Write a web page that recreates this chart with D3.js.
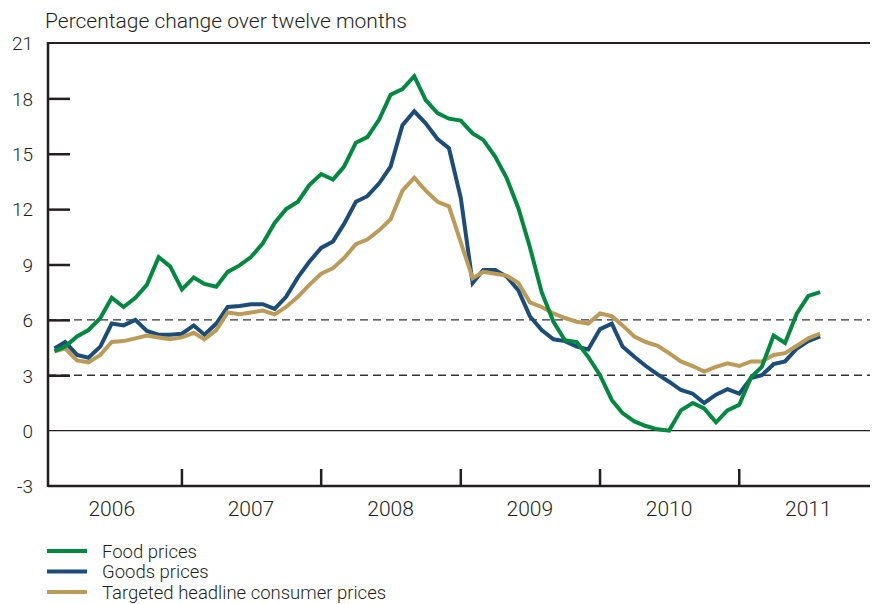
<!DOCTYPE html>
<html>
<head>
<meta charset="utf-8">
<script src="https://cdn.jsdelivr.net/npm/d3@7"></script>
<style>
  body { margin: 0; background: #fff; }
  svg { display: block; font-family: Roboto, "Liberation Sans", sans-serif; font-weight: 300; }
  .lbl { fill: #231f20; }
</style>
</head>
<body>
<svg class="chart"></svg>
<script>
// monthly data, Jan 2006 - Jul 2011, percent change over twelve months
var firstMonth = new Date(2006, 0, 1);

var food = [4.3, 4.55, 5.1, 5.45, 6.1, 7.2, 6.7, 7.2, 7.9, 9.4, 8.9, 7.65,
    8.3, 7.95, 7.8, 8.6, 8.95, 9.4, 10.15, 11.25, 12.0, 12.4, 13.3, 13.9,
    13.6, 14.3, 15.6, 15.9, 16.85, 18.2, 18.5, 19.2, 17.9, 17.2, 16.9, 16.8,
    16.1, 15.75, 14.85, 13.7, 12.05, 9.95, 7.5, 5.9, 4.9, 4.8, 4.0, 3.0,
    1.65, 0.95, 0.5, 0.25, 0.07, 0.0, 1.1, 1.5, 1.2, 0.45, 1.1, 1.4,
    2.9, 3.45, 5.15, 4.75, 6.35, 7.3, 7.5];

var goods = [4.45, 4.8, 4.1, 3.95, 4.55, 5.8, 5.7, 6.0, 5.4, 5.2, 5.2, 5.25,
    5.7, 5.2, 5.8, 6.7, 6.75, 6.85, 6.85, 6.6, 7.25, 8.3, 9.15, 9.9,
    10.25, 11.2, 12.4, 12.7, 13.4, 14.3, 16.55, 17.3, 16.65, 15.8, 15.3, 12.6,
    8.0, 8.7, 8.7, 8.35, 7.6, 6.2, 5.45, 4.95, 4.85, 4.55, 4.4, 5.5,
    5.8, 4.55, 4.0, 3.5, 3.05, 2.65, 2.2, 2.0, 1.5, 1.95, 2.25, 2.0,
    2.85, 3.0, 3.6, 3.75, 4.45, 4.85, 5.1];

var headline = [4.3, 4.45, 3.8, 3.7, 4.1, 4.8, 4.85, 5.0, 5.15, 5.05, 4.95, 5.05,
    5.3, 4.95, 5.45, 6.4, 6.3, 6.4, 6.5, 6.3, 6.7, 7.25, 7.9, 8.5,
    8.8, 9.35, 10.1, 10.35, 10.85, 11.45, 13.0, 13.7, 13.0, 12.4, 12.15, 10.2,
    8.25, 8.6, 8.5, 8.4, 8.0, 6.95, 6.7, 6.35, 6.1, 5.9, 5.8, 6.35,
    6.2, 5.7, 5.1, 4.8, 4.6, 4.2, 3.75, 3.5, 3.2, 3.45, 3.65, 3.5,
    3.75, 3.75, 4.1, 4.2, 4.6, 5.0, 5.25];

var years = [2006, 2007, 2008, 2009, 2010, 2011];
var yTicks = [-3, 0, 3, 6, 9, 12, 15, 18, 21];
var targetBand = [3, 6]; // dashed lines

var seriesNames = ["Food prices", "Goods prices", "Targeted headline consumer prices"];
var seriesColors = ["#00893f", "#1b4d78", "#bb9b57"];

var width = 873;
var height = 604;
// note: "top" is taken by window.top, so plot edges get their own names
var plotLeft = 48, plotRight = 870, plotTop = 43, plotBottom = 486;

var chart = d3.select(".chart")
    .attr("width", width)
    .attr("height", height);

var x = d3.scaleTime()
    .domain([new Date(2006, 0, 1), new Date(2012, 0, 1)])
    .range([42.7, 878.5]);

var y = d3.scaleLinear()
    .domain([-3, 21])
    .range([plotBottom, plotTop]);

// each monthly value sits at the end of its month
function monthEnd(i) {
    return d3.timeMonth.offset(firstMonth, i + 1);
}

var line = d3.line()
    .x(function(d, i) { return x(monthEnd(i)); })
    .y(function(d) { return y(d); });

chart.append("text")
    .attr("class", "lbl")
    .attr("x", 45)
    .attr("y", 28)
    .style("font-size", "21px")
    .text("Percentage change over twelve months");

// dashed reference lines
chart.selectAll("line.band")
    .data(targetBand)
    .enter()
    .append("line")
    .attr("class", "band")
    .attr("x1", plotLeft).attr("x2", plotRight)
    .attr("y1", function(d) { return y(d); })
    .attr("y2", function(d) { return y(d); })
    .attr("stroke", "#333")
    .attr("stroke-width", 1.3)
    .attr("stroke-dasharray", "8,5");

// zero line
chart.append("line")
    .attr("x1", plotLeft).attr("x2", plotRight)
    .attr("y1", y(0)).attr("y2", y(0))
    .attr("stroke", "#231f20")
    .attr("stroke-width", 1.2);

// top border
chart.append("line")
    .attr("x1", plotLeft - 1).attr("x2", plotRight)
    .attr("y1", plotTop).attr("y2", plotTop)
    .attr("stroke", "#231f20")
    .attr("stroke-width", 2);

// y axis (plain hyphen for the negative label, as in the original)
var yAxis = d3.axisLeft(y)
    .tickValues(yTicks)
    .tickFormat(function(d) { return String(d); })
    .tickSize(-22)
    .tickPadding(14);

var yg = chart.append("g")
    .attr("transform", "translate(" + plotLeft + ",0)")
    .call(yAxis);
yg.select(".domain").remove();
yg.selectAll(".tick line")
    .attr("stroke", "#231f20")
    .attr("stroke-width", 2.5)
    .style("display", function(d) { return (d === -3 || d === 0 || d === 21) ? "none" : null; });
yg.selectAll(".tick text")
    .attr("class", "lbl")
    .attr("x", -15)
    .attr("dy", "0.36em")
    .style("font-family", "Roboto, sans-serif")
    .style("font-weight", 300)
    .style("font-size", "19px");

chart.append("line")
    .attr("x1", plotLeft).attr("x2", plotLeft)
    .attr("y1", plotTop - 1).attr("y2", plotBottom + 1)
    .attr("stroke", "#231f20")
    .attr("stroke-width", 2.5);

// x axis: ticks at year boundaries, labels mid-year
var xg = chart.append("g");
xg.append("line")
    .attr("x1", plotLeft).attr("x2", plotRight)
    .attr("y1", plotBottom).attr("y2", plotBottom)
    .attr("stroke", "#231f20")
    .attr("stroke-width", 2.5);

xg.selectAll("line.yt")
    .data(years.slice(1))
    .enter()
    .append("line")
    .attr("class", "yt")
    .attr("x1", function(d) { return x(new Date(d, 0, 1)); })
    .attr("x2", function(d) { return x(new Date(d, 0, 1)); })
    .attr("y1", plotBottom)
    .attr("y2", plotBottom - 17)
    .attr("stroke", "#231f20")
    .attr("stroke-width", 2.5);

xg.selectAll("text")
    .data(years)
    .enter()
    .append("text")
    .attr("class", "lbl")
    .attr("x", function(d) { return x(new Date(d, 6, 1)); })
    .attr("y", 516)
    .attr("text-anchor", "middle")
    .style("font-size", "21px")
    .text(function(d) { return d; });

// series lines, goods and headline under food
var order = [1, 2, 0];
var allSeries = [food, goods, headline];

chart.selectAll("path.series")
    .data(order)
    .enter()
    .append("path")
    .attr("class", "series")
    .attr("fill", "none")
    .attr("stroke", function(k) { return seriesColors[k]; })
    .attr("stroke-width", 4)
    .attr("d", function(k) { return line(allSeries[k]); });

// legend, nudged up a little so the last row fits inside the page
var legend = chart.selectAll("g.legend")
    .data(seriesNames)
    .enter()
    .append("g")
    .attr("class", "legend")
    .attr("transform", function(d, i) { return "translate(0," + (551 + i * 20.5) + ")"; });

legend.append("line")
    .attr("x1", 47).attr("x2", 87)
    .attr("stroke", function(d, i) { return seriesColors[i]; })
    .attr("stroke-width", 4);

legend.append("text")
    .attr("class", "lbl")
    .attr("x", 102)
    .attr("y", 6.5)
    .style("font-size", "18.5px")
    .text(function(d) { return d; });
</script>
</body>
</html>
